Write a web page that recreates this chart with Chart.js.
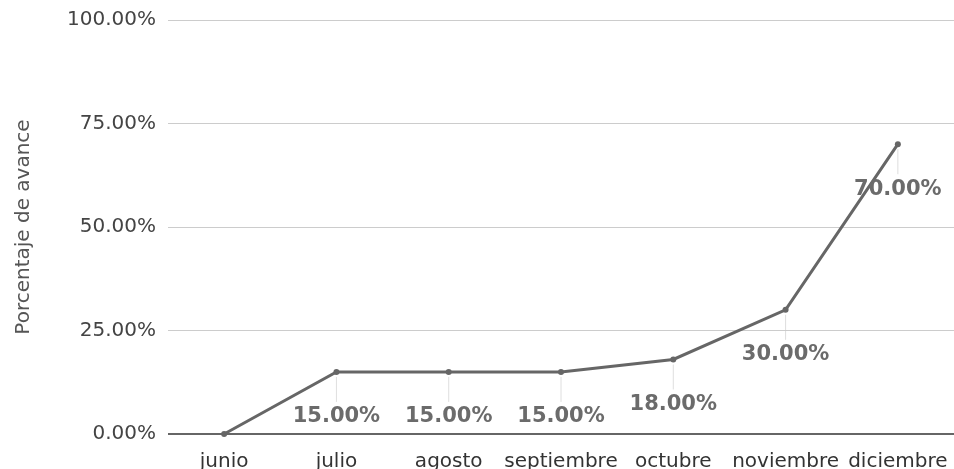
<!DOCTYPE html>
<html>
<head>
<meta charset="utf-8">
<style>
html,body{margin:0;padding:0;background:#fff;}
#wrap{width:954px;height:469px;position:relative;}
</style>
<script src="https://cdn.jsdelivr.net/npm/chart.js@4/dist/chart.umd.min.js"></script>
</head>
<body>
<div id="wrap"><canvas id="c" width="954" height="469"></canvas></div>
<script>
const categories = ['junio', 'julio', 'agosto', 'septiembre', 'octubre', 'noviembre', 'diciembre'];
const avance = [0, 15, 15, 15, 18, 30, 70];
const yTicks = [0, 25, 50, 75, 100];
const yTitle = 'Porcentaje de avance';

const fmt = v => Number(v).toFixed(2) + '%';

const labelPlugin = {
  id: 'labelPlugin',
  afterDatasetsDraw(chart) {
    const ctx = chart.ctx;
    const meta = chart.getDatasetMeta(0);
    ctx.save();
    meta.data.forEach((pt, i) => {
      if (i === 0) return;
      const x = pt.x, y = pt.y;
      ctx.strokeStyle = 'rgba(200,200,200,0.6)';
      ctx.lineWidth = 1;
      ctx.beginPath();
      ctx.moveTo(x, y + 5);
      ctx.lineTo(x, y + 30);
      ctx.stroke();
      ctx.font = 'bold 21px "DejaVu Sans"';
      ctx.fillStyle = '#6b6b6b';
      ctx.textAlign = 'center';
      ctx.textBaseline = 'middle';
      ctx.fillText(fmt(avance[i]), x, y + 45);
    });
    ctx.restore();
  }
};

new Chart(document.getElementById('c'), {
  type: 'line',
  data: {
    labels: categories,
    datasets: [{
      data: avance,
      borderColor: '#666666',
      backgroundColor: '#666666',
      borderWidth: 3,
      pointRadius: 3,
      pointBorderWidth: 0,
      tension: 0,
      clip: false
    }]
  },
  options: {
    responsive: false,
    animation: false,
    layout: { autoPadding: false, padding: { top: 20, right: 0, left: 0, bottom: 0 } },
    plugins: { legend: { display: false }, tooltip: { enabled: false } },
    scales: {
      x: {
        offset: true,
        grid: { display: false, drawTicks: false },
        border: { display: false },
        ticks: { color: '#333', font: { family: 'DejaVu Sans', size: 20 }, padding: 16, maxRotation: 0, autoSkip: false },
        afterFit(s) { s.height = 35; s.paddingLeft = 0; s.paddingRight = 0; }
      },
      y: {
        min: 0, max: 100,
        afterBuildTicks(s) { s.ticks = yTicks.map(v => ({ value: v })); },
        grid: {
          drawTicks: false,
          color: c => c.tick && c.tick.value === 0 ? '#666666' : '#cccccc',
          lineWidth: c => c.tick && c.tick.value === 0 ? 2 : 1
        },
        border: { display: false },
        ticks: { color: '#444', font: { family: 'DejaVu Sans', size: 20 }, padding: 12, callback: v => fmt(v) },
        title: { display: true, text: yTitle, color: '#555', font: { family: 'DejaVu Sans', size: 20 }, padding: { top: 12, bottom: 4 } },
        afterFit(s) { s.width = 168; s.paddingTop = 0; s.paddingBottom = 0; }
      }
    }
  },
  plugins: [labelPlugin]
});
</script>
</body>
</html>
